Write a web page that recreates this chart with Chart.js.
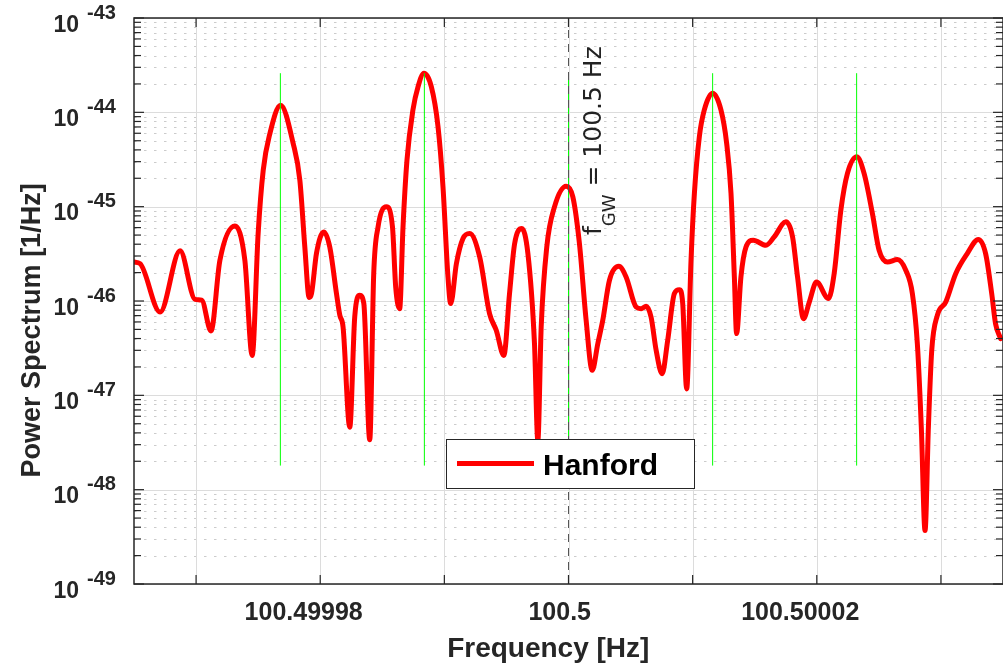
<!DOCTYPE html>
<html>
<head>
<meta charset="utf-8">
<script src="https://cdn.jsdelivr.net/npm/chart.js@4.4.0/dist/chart.umd.min.js"></script>
<style>
  html, body { margin: 0; padding: 0; background: #fff; }
  #wrap { width: 1003px; height: 670px; }
</style>
</head>
<body>
<div id="wrap"><canvas id="spectrum"></canvas></div>
<script>
// frequency offsets from 100.5 Hz, in microhertz
const freqOffset = [
  -35.0, -34.51, -32.90, -31.29, -30.08, -29.55, -28.80, -28.08, -26.87, -26.07,
  -25.48, -25.00, -24.59, -24.05, -23.19, -22.18, -21.64, -21.24, -20.89, -20.70,
  -20.30, -19.71, -19.23, -18.69, -18.42, -18.16, -17.62, -17.22, -16.81, -16.49,
  -16.01, -15.69, -15.34, -14.67, -14.18, -13.92, -13.60, -13.33, -13.01, -12.53,
  -12.12, -11.64, -11.05, -10.51, -10.11, -9.71, -9.49, -9.03, -8.50, -7.96,
  -7.16, -6.36, -5.82, -5.21, -4.75, -4.34, -3.76, -3.27, -2.74, -2.47,
  -2.20, -1.75, -1.13, -0.19, 0.35, 0.88, 1.42, 1.91, 2.36, 2.76,
  3.30, 4.05, 4.64, 5.45, 5.85, 6.25, 6.65, 7.06, 7.54, 7.99,
  8.53, 8.93, 9.20, 9.52, 9.87, 10.14, 10.54, 10.94, 11.61, 12.28,
  12.74, 13.09, 13.36, 13.54, 13.89, 14.30, 14.88, 15.91, 16.57, 17.51,
  18.05, 18.45, 18.93, 19.39, 19.98, 20.94, 21.40, 21.94, 22.47, 23.23,
  23.81, 24.48, 25.02, 25.69, 26.49, 27.17, 27.70, 28.10, 28.42, 28.72,
  28.99, 29.26, 29.71, 30.39, 31.19, 32.12, 33.01, 33.60, 34.09, 34.40,
  34.81
];

// power spectrum, 1/Hz
const hanfordPower = [
  2.59e-46, 2.49e-46, 7.64e-47, 3.40e-46, 1.04e-46, 1.02e-46, 4.81e-47, 2.70e-46, 6.25e-46, 2.70e-46,
  2.65e-47, 5.19e-46, 2.44e-45, 5.98e-45, 1.19e-44, 4.69e-45, 1.91e-45, 3.74e-46, 1.09e-46, 1.20e-46,
  3.21e-46, 5.40e-46, 3.74e-46, 1.20e-46, 7.05e-47, 5.30e-47, 4.59e-48, 6.76e-47, 1.15e-46, 9.46e-47,
  3.38e-48, 1.95e-46, 6.11e-46, 9.95e-46, 6.11e-46, 1.41e-46, 8.30e-47, 6.11e-46, 3.12e-45, 1.06e-44,
  1.87e-44, 2.59e-44, 1.87e-44, 7.03e-45, 1.62e-45, 1.80e-46, 9.38e-47, 2.49e-46, 4.59e-46, 5.19e-46,
  2.95e-46, 7.35e-47, 4.89e-47, 2.65e-47, 1.20e-46, 4.06e-46, 5.87e-46, 3.18e-46, 3.53e-47, 3.32e-48,
  5.30e-47, 3.74e-46, 9.95e-46, 1.65e-45, 1.27e-45, 4.06e-46, 6.24e-47, 1.84e-47, 3.53e-47, 6.24e-47,
  1.66e-46, 2.33e-46, 1.80e-46, 8.63e-47, 8.30e-47, 8.79e-47, 6.76e-47, 3.00e-47, 1.69e-47, 3.83e-47,
  1.20e-46, 1.32e-46, 9.38e-47, 1.17e-47, 2.70e-46, 1.38e-45, 5.51e-45, 1.06e-44, 1.59e-44, 1.06e-44,
  4.69e-45, 1.38e-45, 1.80e-46, 4.51e-47, 1.80e-46, 3.74e-46, 4.41e-46, 3.90e-46, 4.78e-46, 6.90e-46,
  4.78e-46, 1.80e-46, 6.50e-47, 9.68e-47, 1.59e-46, 1.06e-46, 1.95e-46, 9.18e-46, 2.25e-45, 3.38e-45,
  2.25e-45, 8.47e-46, 3.45e-46, 2.59e-46, 2.75e-46, 2.12e-46, 1.20e-46, 3.53e-47, 4.59e-48, 3.68e-49,
  4.59e-48, 3.00e-47, 7.05e-47, 9.75e-47, 1.95e-46, 3.18e-46, 4.49e-46, 3.18e-46, 1.20e-46, 5.75e-47,
  3.99e-47
];

// sidereal sidebands (green markers), microhertz from f_GW
const sidebandOffsets = [-23.21, -11.61, 0, 11.61, 23.21];
const sidebandRange = [1.8e-48, 2.6e-44];
const fGW = 0;

const xTicks = [-30, -20, -10, 0, 10, 20, 30];
const xTickLabels = ['', '100.49998', '', '100.5', '', '100.50002', ''];
const yDecades = [-49, -48, -47, -46, -45, -44, -43];

const ink = '#262626';
const sans = '"Liberation Sans", Arial, Helvetica, sans-serif';

function seg(ctx, x1, y1, x2, y2) {
  ctx.beginPath();
  ctx.moveTo(x1, y1);
  ctx.lineTo(x2, y2);
  ctx.stroke();
}

const framePlugin = {
  id: 'frame',
  beforeDatasetsDraw(chart) {
    const { ctx, chartArea: a, scales: { x, y } } = chart;
    ctx.save();
    ctx.lineWidth = 1;
    // minor log grid, dotted
    ctx.strokeStyle = '#cbcbcb';
    ctx.setLineDash([2.5, 7.5]);
    yDecades.slice(0, -1).forEach(e => {
      for (let k = 2; k <= 9; k++) {
        const py = Math.round(y.getPixelForValue(k * Math.pow(10, e))) + 0.5;
        seg(ctx, a.left, py, a.right, py);
      }
    });
    ctx.setLineDash([]);
    ctx.strokeStyle = '#dcdcdc';
    xTicks.forEach(v => {
      const px = Math.round(x.getPixelForValue(v)) + 0.5;
      seg(ctx, px, a.top, px, a.bottom);
    });
    yDecades.forEach(e => {
      const py = Math.round(y.getPixelForValue(Math.pow(10, e))) + 0.5;
      seg(ctx, a.left, py, a.right, py);
    });
    ctx.restore();
  },
  afterDatasetsDraw(chart) {
    const { ctx, chartArea: a, scales: { x, y } } = chart;
    ctx.save();

    // axes box and inward ticks
    ctx.strokeStyle = ink;
    ctx.lineWidth = 1.5;
    ctx.strokeRect(a.left, a.top, a.right - a.left, a.bottom - a.top);
    ctx.lineWidth = 1.2;
    xTicks.forEach(v => {
      const px = x.getPixelForValue(v);
      seg(ctx, px, a.bottom, px, a.bottom - 9);
      seg(ctx, px, a.top, px, a.top + 9);
    });
    yDecades.forEach((e, i) => {
      const py = y.getPixelForValue(Math.pow(10, e));
      seg(ctx, a.left, py, a.left + 10, py);
      seg(ctx, a.right, py, a.right - 10, py);
      if (i === yDecades.length - 1) return;
      for (let k = 2; k <= 9; k++) {
        const pm = y.getPixelForValue(k * Math.pow(10, e));
        seg(ctx, a.left, pm, a.left + 7, pm);
        seg(ctx, a.right, pm, a.right - 7, pm);
      }
    });

    // y tick labels 10^n
    ctx.fillStyle = ink;
    ctx.textBaseline = 'alphabetic';
    yDecades.forEach(e => {
      const py = y.getPixelForValue(Math.pow(10, e));
      ctx.font = 'bold 23px ' + sans;
      ctx.textAlign = 'right';
      ctx.fillText('10', 79, py + 13.5);
      ctx.font = 'bold 20px ' + sans;
      ctx.textAlign = 'left';
      ctx.fillText(String(e), 87, py + 0.5);
    });

    // x tick labels
    ctx.font = 'bold 25px ' + sans;
    ctx.textAlign = 'left';
    xTicks.forEach((v, i) => {
      const label = xTickLabels[i];
      if (!label) return;
      const w = ctx.measureText(label).width;
      ctx.fillText(label, x.getPixelForValue(v) - 0.64 * w, 620);
    });

    // axis titles
    const cx = (a.left + a.right) / 2;
    const cy = (a.top + a.bottom) / 2;
    ctx.font = 'bold 28px ' + sans;
    const xt = 'Frequency [Hz]';
    ctx.fillText(xt, cx - 0.6 * ctx.measureText(xt).width, 657);
    ctx.font = 'bold 27px ' + sans;
    const yt = 'Power Spectrum [1/Hz]';
    ctx.save();
    ctx.translate(40, cy + 0.6 * ctx.measureText(yt).width);
    ctx.rotate(-Math.PI / 2);
    ctx.fillText(yt, 0, 0);
    ctx.restore();

    // f_GW annotation
    ctx.save();
    ctx.fillStyle = '#222';
    ctx.translate(x.getPixelForValue(fGW) + 32, y.getPixelForValue(5e-46));
    ctx.rotate(-Math.PI / 2);
    ctx.font = '25px "DejaVu Sans", sans-serif';
    ctx.fillText('f', 0, 0);
    let off = ctx.measureText('f').width;
    ctx.font = '18px "DejaVu Sans", sans-serif';
    ctx.fillText('GW', off, 14);
    off += ctx.measureText('GW').width;
    ctx.font = '25px "DejaVu Sans", sans-serif';
    ctx.fillText(' = 100.5 Hz', off, 0);
    ctx.restore();

    // legend box
    ctx.fillStyle = '#fff';
    ctx.fillRect(446, 439, 248, 49);
    ctx.strokeStyle = ink;
    ctx.lineWidth = 1;
    ctx.strokeRect(446.5, 439.5, 248, 49);
    ctx.strokeStyle = '#ff0000';
    ctx.lineWidth = 5;
    seg(ctx, 457, 463.5, 534, 463.5);
    ctx.fillStyle = '#000';
    ctx.font = 'bold 30px ' + sans;
    ctx.fillText('Hanford', 543, 475);

    ctx.restore();
  }
};

const datasets = [{
  label: 'Hanford',
  data: freqOffset.map((f, i) => ({ x: f, y: hanfordPower[i] })),
  borderColor: '#ff0000',
  borderWidth: 5,
  pointRadius: 0,
  cubicInterpolationMode: 'monotone',
  borderJoinStyle: 'round',
  borderCapStyle: 'round',
  order: 3
}];

sidebandOffsets.forEach(f => {
  datasets.push({
    label: 'sideband',
    data: [{ x: f, y: sidebandRange[0] }, { x: f, y: sidebandRange[1] }],
    borderColor: '#00ff00',
    borderWidth: 1,
    pointRadius: 0,
    order: 2
  });
});

datasets.push({
  label: 'fGW',
  data: [{ x: fGW, y: 1e-49 }, { x: fGW, y: 1e-43 }],
  borderColor: '#555555',
  borderWidth: 1,
  borderDash: [8, 6],
  pointRadius: 0,
  order: 1
});

new Chart(document.getElementById('spectrum'), {
  type: 'line',
  data: { datasets },
  options: {
    responsive: true,
    maintainAspectRatio: false,
    animation: false,
    events: [],
    layout: { padding: { left: 134, right: -1, top: 18, bottom: 86 } },
    scales: {
      x: { type: 'linear', min: -35, max: 35, display: false },
      y: { type: 'logarithmic', min: 1e-49, max: 1e-43, display: false }
    },
    plugins: {
      legend: { display: false },
      tooltip: { enabled: false }
    }
  },
  plugins: [framePlugin]
});
</script>
</body>
</html>
